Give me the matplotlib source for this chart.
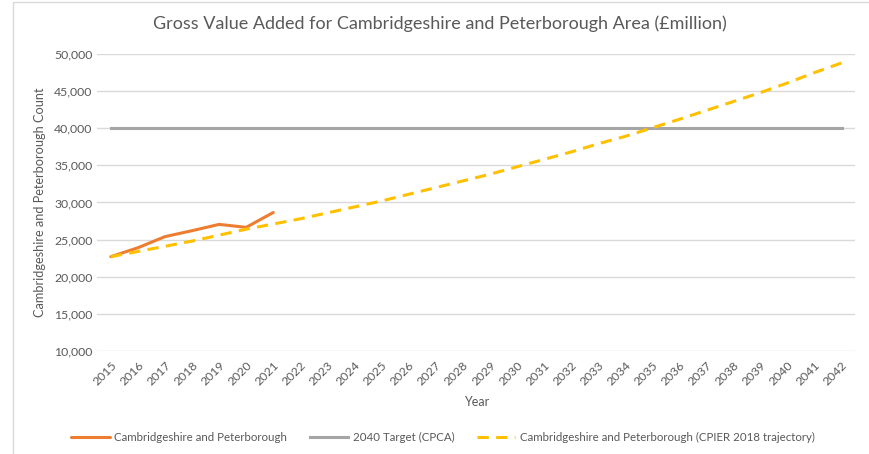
import numpy as np
import matplotlib
matplotlib.use('Agg')
import matplotlib.pyplot as plt
from matplotlib.ticker import FuncFormatter
from matplotlib.patches import Rectangle

plt.rcParams['font.family'] = ['Lato', 'DejaVu Sans']

years = list(range(2015, 2043))

# observed GVA (£million)
actual_years = [2015, 2016, 2017, 2018, 2019, 2020, 2021]
actual_gva = [22700, 23900, 25400, 26200, 27050, 26650, 28650]

# 2040 target (CPCA)
target_gva = [40000] * len(years)

# CPIER 2018 trajectory
trajectory_gva = [22700, 23400, 24100, 24800, 25600, 26400, 27100, 27800,
                  28600, 29400, 30200, 31100, 32000, 32900, 33800, 34800,
                  35800, 36800, 37900, 38900, 40050, 41200, 42400, 43600,
                  44800, 46100, 47500, 48800]

text_col = '#595959'

fig = plt.figure(figsize=(8.69, 4.54), dpi=100)
ax = fig.add_axes([0.112, 0.227, 0.872, 0.654])

l1, = ax.plot(actual_years, actual_gva, color='#ED7D31', lw=2.2, solid_capstyle='round')
l2, = ax.plot(years, target_gva, color='#A5A5A5', lw=2.2)
l3, = ax.plot(years, trajectory_gva, color='#FFC000', lw=2.2, dashes=(3.7, 2.4))

ax.set_xlim(2014.5, 2042.5)
ax.set_ylim(10000, 50000)
ax.set_yticks(np.arange(10000, 50001, 5000))
ax.yaxis.set_major_formatter(FuncFormatter(lambda v, p: f'{int(v):,}'))
ax.set_xticks(years)
ax.set_xticklabels([str(y) for y in years], rotation=45, ha='right', rotation_mode='anchor')

ax.grid(axis='y', color='#D9D9D9', lw=1)
ax.set_axisbelow(True)
for s in ax.spines.values():
    s.set_visible(False)
ax.tick_params(length=0, colors=text_col, labelsize=8.8)
ax.tick_params(axis='x', pad=6)

ax.set_xlabel('Year', color=text_col, fontsize=9, labelpad=6)
ax.set_ylabel('Cambridgeshire and Peterborough Count', color=text_col, fontsize=9.2, labelpad=6)
fig.text(0.506, 0.947, 'Gross Value Added for Cambridgeshire and Peterborough Area (£million)',
         ha='center', va='center', color=text_col, fontsize=13)

fig.legend([l1, l2, l3],
           ['Cambridgeshire and Peterborough', '2040 Target (CPCA)',
            'Cambridgeshire and Peterborough (CPIER 2018 trajectory)'],
           loc='center', bbox_to_anchor=(0.51, 0.037), ncol=3, frameon=False,
           fontsize=8.3, labelcolor=text_col, handlelength=3.3, handletextpad=0.4,
           columnspacing=2.0)

fig.patches.append(Rectangle((0.015, -0.01), 0.99, 1.005, transform=fig.transFigure,
                             fill=False, edgecolor='#D9D9D9', lw=1))

fig.savefig('out.png', dpi=100)
